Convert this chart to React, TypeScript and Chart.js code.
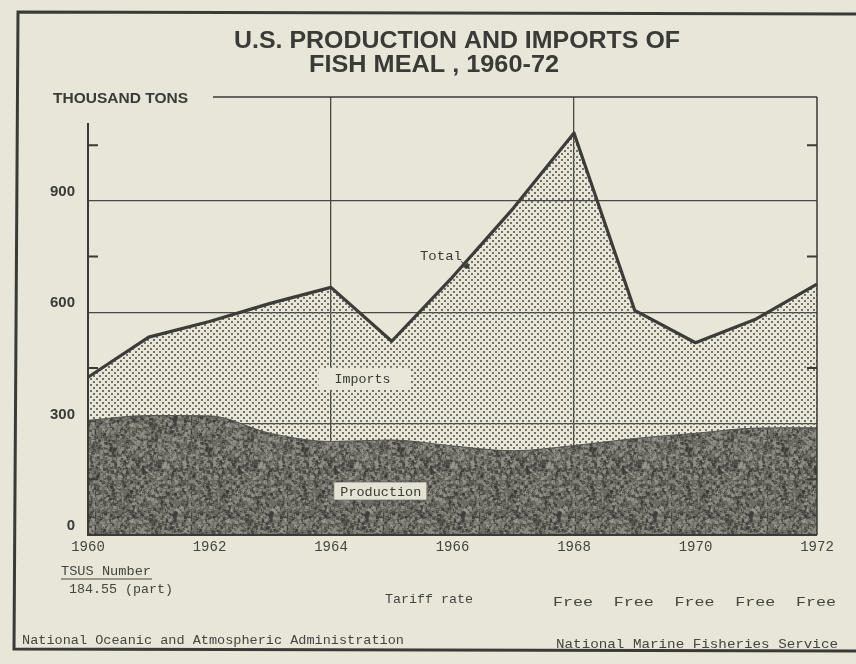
import React, { useEffect, useRef } from 'react';
import { Chart, registerables } from 'chart.js';

Chart.register(...registerables);

// ---- data ----
const years = ['1960', '1961', '1962', '1963', '1964', '1965', '1966', '1967', '1968', '1969', '1970', '1971', '1972'];
const production = [309, 322, 321, 274, 252, 256, 240, 227, 241, 260, 274, 288, 289];
const total = [425, 533, 575, 624, 667, 522, 695, 880, 1083, 605, 518, 582, 676];
const yTickValues = [0, 150, 300, 450, 600, 750, 900, 1050];
const yLabelValues = [0, 300, 600, 900];
const yGridValues = [300, 600, 900];
const yMinorTicks = [150, 450, 750, 1050];
const xLabelYears = ['1960', '1962', '1964', '1966', '1968', '1970', '1972'];
const xGridYears = ['1964', '1968'];
const tariffYears = ['1968', '1969', '1970', '1971', '1972'];
const tariffRates = ['Free', 'Free', 'Free', 'Free', 'Free'];

const BG = '#e8e6d9';
const INK = '#3a3a36';
const MONO = "'Liberation Mono', 'DejaVu Sans Mono', monospace";
const SANS = "'Liberation Sans', 'DejaVu Sans', sans-serif";

function hash(n: number) {
  const x = Math.sin(n * 12.9898 + 78.233) * 43758.5453;
  return x - Math.floor(x);
}

function makeDotTile() {
  const c = document.createElement('canvas');
  c.width = 6;
  c.height = 6;
  const g = c.getContext('2d')!;
  g.fillStyle = 'rgba(100,100,92,0.9)';
  g.fillRect(0, 0, 2, 2);
  g.fillRect(3, 3, 2, 2);
  return c;
}

function makeGrainTile() {
  const s = 96;
  const c = document.createElement('canvas');
  c.width = s;
  c.height = s;
  const g = c.getContext('2d')!;
  g.fillStyle = '#6a6a62';
  g.fillRect(0, 0, s, s);
  for (let i = 0; i < 2600; i++) {
    const x = Math.floor(hash(i * 3.1) * s);
    const y = Math.floor(hash(i * 7.7 + 1) * s);
    const r = 1 + Math.floor(hash(i * 1.3 + 2) * 3);
    const light = hash(i * 5.3 + 3) > 0.5;
    g.fillStyle = light ? 'rgba(160,160,150,0.45)' : 'rgba(50,50,46,0.45)';
    g.fillRect(x, y, r, r);
  }
  return c;
}

function fitText(ctx: CanvasRenderingContext2D, text: string, x: number, y: number, font: string, width: number, align: CanvasTextAlign = 'left') {
  ctx.save();
  ctx.font = font;
  ctx.textAlign = align;
  ctx.textBaseline = 'alphabetic';
  const w = ctx.measureText(text).width;
  const k = w > 0 ? width / w : 1;
  ctx.translate(x, y);
  ctx.scale(k, 1);
  ctx.fillText(text, 0, 0);
  ctx.restore();
}

const decor = {
  id: 'decor',
  beforeDraw(chart: any) {
    const ctx = chart.ctx;
    ctx.save();
    ctx.fillStyle = BG;
    ctx.fillRect(0, 0, chart.width, chart.height);
    ctx.restore();
  },
  afterDatasetsDraw(chart: any) {
    const ctx: CanvasRenderingContext2D = chart.ctx;
    const xs = chart.scales.x;
    const ys = chart.scales.y;
    ctx.save();
    ctx.fillStyle = INK;
    // Total label + arrow
    const tx = xs.getPixelForValue(5.81);
    const ty = ys.getPixelForValue(740);
    fitText(ctx, 'Total', tx, ty, `13px ${MONO}`, 42, 'center');
    ctx.strokeStyle = INK;
    ctx.lineWidth = 1;
    ctx.beginPath();
    ctx.moveTo(tx + 20, ty + 1);
    ctx.lineTo(tx + 27, ty + 7);
    ctx.stroke();
    ctx.beginPath();
    ctx.moveTo(tx + 29, ty + 9);
    ctx.lineTo(tx + 22, ty + 7);
    ctx.lineTo(tx + 27, ty + 2);
    ctx.closePath();
    ctx.fill();
    // Imports label
    const ix = xs.getPixelForValue(4.52);
    const iy = ys.getPixelForValue(410);
    ctx.fillStyle = '#e9e7da';
    ctx.fillRect(ix - 44, iy - 15, 92, 22);
    ctx.fillStyle = INK;
    fitText(ctx, 'Imports', ix, iy, `13px ${MONO}`, 56, 'center');
    // Production label
    const px = xs.getPixelForValue(4.82);
    const py = ys.getPixelForValue(105);
    ctx.fillStyle = '#e4e2d4';
    ctx.fillRect(px - 47, py - 14, 93, 18);
    ctx.strokeStyle = 'rgba(90,90,80,0.6)';
    ctx.strokeRect(px - 47, py - 14, 93, 18);
    ctx.fillStyle = INK;
    fitText(ctx, 'Production', px, py, `13px ${MONO}`, 81, 'center');
    ctx.restore();
  },
  afterDraw(chart: any) {
    const ctx: CanvasRenderingContext2D = chart.ctx;
    const xs = chart.scales.x;
    const ys = chart.scales.y;
    const a = chart.chartArea;
    ctx.save();
    ctx.strokeStyle = INK;
    // outer frame
    ctx.lineWidth = 3;
    ctx.beginPath();
    ctx.moveTo(856, 14);
    ctx.lineTo(18, 12);
    ctx.lineTo(14, 649);
    ctx.lineTo(856, 651);
    ctx.stroke();
    // axes
    ctx.lineWidth = 2;
    ctx.beginPath();
    ctx.moveTo(a.left, ys.getPixelForValue(1110));
    ctx.lineTo(a.left, a.bottom);
    ctx.lineTo(a.right, a.bottom);
    ctx.stroke();
    ctx.lineWidth = 1.5;
    ctx.beginPath();
    ctx.moveTo(a.right, a.top);
    ctx.lineTo(a.right, a.bottom);
    ctx.moveTo(213, a.top);
    ctx.lineTo(a.right, a.top);
    ctx.stroke();
    // minor ticks
    ctx.lineWidth = 2;
    ctx.beginPath();
    for (const v of yMinorTicks) {
      const y = ys.getPixelForValue(v);
      ctx.moveTo(a.left, y);
      ctx.lineTo(a.left + 10, y);
      ctx.moveTo(a.right, y);
      ctx.lineTo(a.right - 10, y);
    }
    ctx.stroke();
    // titles
    ctx.fillStyle = INK;
    fitText(ctx, 'U.S. PRODUCTION AND IMPORTS OF', 234, 48, `bold 23px ${SANS}`, 446);
    fitText(ctx, 'FISH MEAL , 1960-72', 309, 72, `bold 23px ${SANS}`, 250);
    fitText(ctx, 'THOUSAND TONS', 53, 103, `bold 14px ${SANS}`, 135);
    // bottom texts
    ctx.fillStyle = '#45453f';
    fitText(ctx, 'TSUS Number', 61, 575, `13px ${MONO}`, 90);
    ctx.lineWidth = 1;
    ctx.strokeStyle = '#45453f';
    ctx.beginPath();
    ctx.moveTo(61, 579);
    ctx.lineTo(152, 579);
    ctx.stroke();
    fitText(ctx, '184.55 (part)', 69, 593, `13px ${MONO}`, 104);
    fitText(ctx, 'Tariff rate', 385, 603, `13px ${MONO}`, 88);
    tariffYears.forEach((yr, i) => {
      const x = xs.getPixelForValue(years.indexOf(yr));
      fitText(ctx, tariffRates[i], x - 1, 606, `13px ${MONO}`, 40, 'center');
    });
    fitText(ctx, 'National Oceanic and Atmospheric Administration', 22, 644, `13px ${MONO}`, 382);
    fitText(ctx, 'National Marine Fisheries Service', 556, 648, `13px ${MONO}`, 282);
    ctx.restore();
  },
};

export default function App() {
  const ref = useRef<HTMLCanvasElement | null>(null);
  useEffect(() => {
    const canvas = ref.current!;
    const ctx = canvas.getContext('2d')!;
    const dots = ctx.createPattern(makeDotTile(), 'repeat');
    const grain = ctx.createPattern(makeGrainTile(), 'repeat');
    const chart = new Chart(canvas, {
      type: 'line',
      data: {
        labels: years,
        datasets: [
          {
            label: 'Production',
            data: production,
            fill: 'origin',
            backgroundColor: grain as any,
            borderColor: '#55554e',
            borderWidth: 1,
            pointRadius: 0,
            tension: 0.4,
            cubicInterpolationMode: 'monotone',
          },
          {
            label: 'Total',
            data: total,
            fill: '-1',
            backgroundColor: dots as any,
            borderColor: '#3c3c38',
            borderWidth: 3.2,
            borderJoinStyle: 'round',
            pointRadius: 0,
            tension: 0,
          },
        ],
      },
      options: {
        responsive: false,
        animation: false,
        layout: { padding: { top: 97, right: 39, bottom: 0, left: 0 } },
        plugins: { legend: { display: false }, tooltip: { enabled: false }, title: { display: false } },
        scales: {
          x: {
            type: 'category',
            offset: false,
            afterFit: (s: any) => { s.height = 129; },
            border: { display: false },
            grid: {
              drawTicks: false,
              offset: false,
              lineWidth: 1.3,
              color: (c: any) => (xGridYears.includes(years[c.index]) ? '#4a4a45' : 'rgba(0,0,0,0)'),
            },
            ticks: {
              autoSkip: false,
              maxRotation: 0,
              padding: 4,
              color: '#45453f',
              font: { family: MONO, size: 14 },
              callback: (_v: any, i: number) => (xLabelYears.includes(years[i]) ? years[i] : ''),
            },
          },
          y: {
            type: 'linear',
            min: 0,
            max: 1180,
            afterFit: (s: any) => { s.width = 88; },
            afterBuildTicks: (s: any) => { s.ticks = yTickValues.map((v) => ({ value: v })); },
            border: { display: false },
            grid: {
              drawTicks: false,
              lineWidth: 1.3,
              color: (c: any) => (c.tick && yGridValues.includes(c.tick.value) ? '#4a4a45' : 'rgba(0,0,0,0)'),
            },
            ticks: {
              autoSkip: false,
              padding: 13,
              labelOffset: -9,
              color: '#3a3a36',
              font: { family: SANS, size: 15, weight: 'bold' },
              callback: (v: any) => (yLabelValues.includes(Number(v)) ? String(v) : ''),
            },
          },
        },
      },
      plugins: [decor],
    });
    return () => chart.destroy();
  }, []);
  return (
    <div style={{ position: 'absolute', left: 0, top: 0, width: 856, height: 664, background: BG }}>
      <canvas ref={ref} width={856} height={664} style={{ display: 'block' }} />
    </div>
  );
}
